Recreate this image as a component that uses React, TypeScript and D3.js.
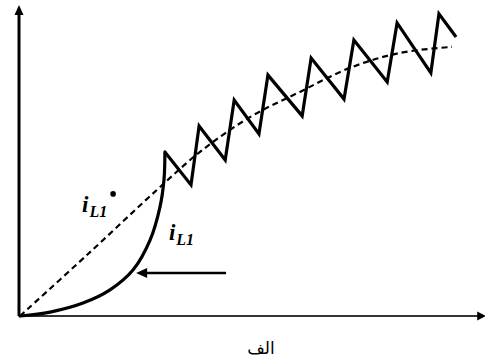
import React from 'react';
import * as d3 from 'd3';

const W = 485;
const H = 363;

// rising inductor current (start-up)
const riseX = [0, 6.7, 14, 20, 25.1, 28.9, 31.1, 32.0, 32.2];
const riseY = [0, 1.3, 4.3, 8.7, 15.3, 25.3, 36.3, 45.5, 54.7];

// ripple (sawtooth) after start-up
const rippleX = [32.2, 38.0, 39.8, 45.6, 47.6, 53.1, 55.1, 62.7, 64.7, 72.0, 74.2, 81.6, 83.8, 91.3, 93.1, 96.9];
const rippleY = [54.7, 43.7, 63.3, 52.0, 72.0, 60.7, 80.3, 66.7, 86.0, 72.3, 92.0, 78.0, 97.7, 81.0, 100.7, 93.0];

// average current (dashed)
const avgX = [0, 15, 30.4, 40, 51.1, 62.2, 73.3, 84.4, 96];
const avgY = [0, 20.5, 42, 54.7, 66.3, 74.7, 82.7, 87.7, 89.7];

// arrow pointing at the rising curve
const arrowX = [45.8, 25.8];
const arrowY = [14.3, 14.3];

const axisEnd = { x: 103.6, y: 103.7 };

const labels = [
  { x: 13.8, y: 34.7, dot: true },
  { x: 33.1, y: 25.3, dot: false },
];

const caption = 'الف';

const App = () => {
  const x = d3.scaleLinear().domain([0, 100]).range([20, 470]);
  const y = d3.scaleLinear().domain([0, 100]).range([316, 16]);

  const pts = (xs: number[], ys: number[]) => xs.map((v, i) => [v, ys[i]] as [number, number]);

  const smooth = d3.line<[number, number]>()
    .x(d => x(d[0]))
    .y(d => y(d[1]))
    .curve(d3.curveCatmullRom.alpha(0.5));
  const straight = d3.line<[number, number]>()
    .x(d => x(d[0]))
    .y(d => y(d[1]));

  const ax0 = x(0) - 1;
  const ay0 = y(0);
  const axRight = x(axisEnd.x);
  const ayTop = y(axisEnd.y);

  const ah = (tx: number, ty: number, dir: 'up' | 'right' | 'left', len = 10, half = 4.5) => {
    if (dir === 'up') return `M${tx},${ty} L${tx - half},${ty + len} L${tx + half},${ty + len} Z`;
    if (dir === 'right') return `M${tx},${ty} L${tx - len},${ty - half} L${tx - len},${ty + half} Z`;
    return `M${tx},${ty} L${tx + len},${ty - half} L${tx + len},${ty + half} Z`;
  };

  return (
    <div style={{ position: 'absolute', left: 0, top: 0 }}>
      <svg width={W} height={H} style={{ display: 'block', background: '#fff' }}>
        {/* axes */}
        <line x1={ax0} y1={ay0} x2={ax0} y2={ayTop + 6} stroke="#000" strokeWidth={3} />
        <path d={ah(ax0, ayTop, 'up', 10, 4.5)} fill="#000" />
        <line x1={ax0} y1={ay0} x2={axRight - 6} y2={ay0} stroke="#333" strokeWidth={2} />
        <path d={ah(axRight, ay0, 'right', 9, 4.5)} fill="#000" />

        {/* average current */}
        <path d={smooth(pts(avgX, avgY)) || ''} fill="none" stroke="#000" strokeWidth={2.2} strokeDasharray="6,4" />

        {/* inductor current */}
        <path d={smooth(pts(riseX, riseY)) || ''} fill="none" stroke="#000" strokeWidth={3.2} strokeLinecap="round" />
        <path d={straight(pts(rippleX, rippleY)) || ''} fill="none" stroke="#000" strokeWidth={3.2} strokeLinejoin="miter" />

        {/* arrow */}
        <line x1={x(arrowX[0])} y1={y(arrowY[0])} x2={x(arrowX[1]) + 8} y2={y(arrowY[1])} stroke="#000" strokeWidth={2.5} />
        <path d={ah(x(arrowX[1]), y(arrowY[1]), 'left', 11, 5)} fill="#000" />

        {/* labels */}
        {labels.map((l, i) => (
          <g key={i}>
            <text
              x={x(l.x)}
              y={y(l.y)}
              fontFamily="'Liberation Serif', 'DejaVu Serif', serif"
              fontStyle="italic"
              fontWeight="bold"
              fontSize={23}
              fill="#000"
            >
              i
              <tspan fontSize={16} dy={5} dx={1}>L1</tspan>
            </text>
            {l.dot && <circle cx={x(l.x) + 31} cy={y(l.y) - 18} r={2.8} fill="#000" />}
          </g>
        ))}

        <text
          x={261}
          y={354}
          textAnchor="middle"
          fontFamily="'DejaVu Sans', sans-serif"
          fontSize={17}
          fill="#000"
        >
          {caption}
        </text>
      </svg>
    </div>
  );
};

export default App;
